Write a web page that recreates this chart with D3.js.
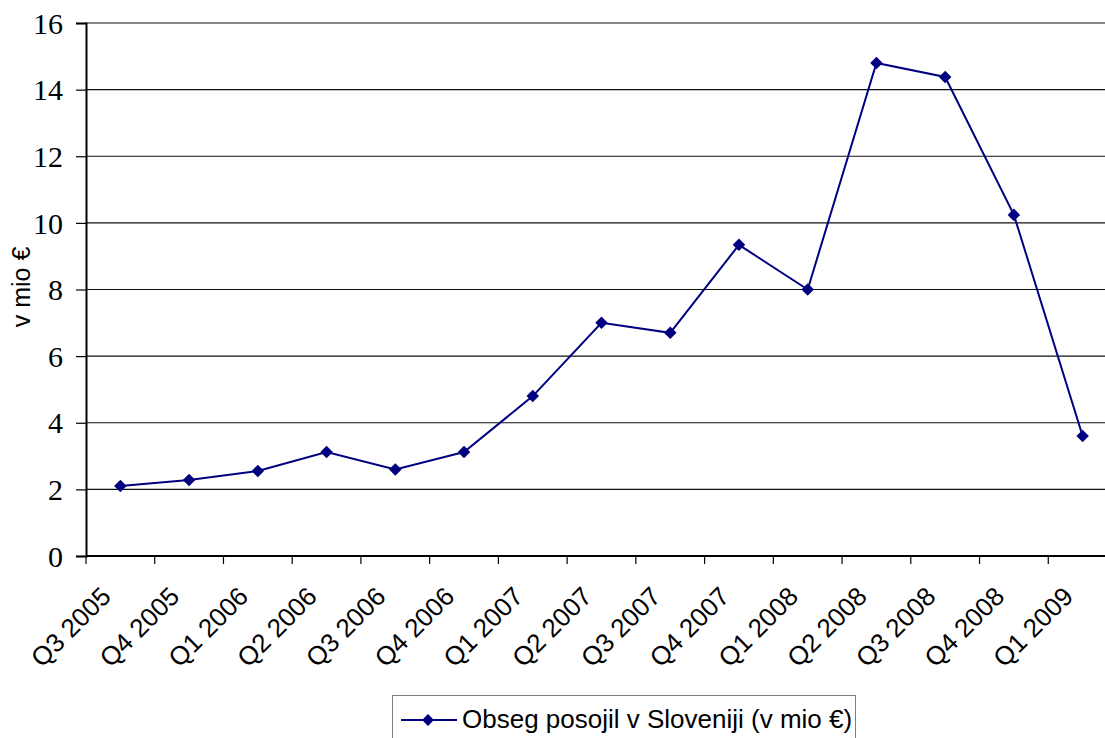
<!DOCTYPE html>
<html>
<head>
<meta charset="utf-8">
<script src="https://cdn.jsdelivr.net/npm/d3@7"></script>
<style>
  body { margin: 0; background: #fff; }
  svg { display: block; }
</style>
</head>
<body>
<svg id="chart" width="1105" height="738"></svg>
<script>
const quarters = ["Q3 2005", "Q4 2005", "Q1 2006", "Q2 2006", "Q3 2006", "Q4 2006", "Q1 2007",
  "Q2 2007", "Q3 2007", "Q4 2007", "Q1 2008", "Q2 2008", "Q3 2008", "Q4 2008", "Q1 2009"];
const loans = [2.1, 2.28, 2.55, 3.12, 2.6, 3.12, 4.8, 7.0, 6.7, 9.34, 8.0, 14.8, 14.38, 10.24, 3.6];
const yTicks = [0, 2, 4, 6, 8, 10, 12, 14, 16];
const seriesName = "Obseg posojil v Sloveniji (v mio €)";
const yTitle = "v mio €";

const svg = d3.select("#chart");
const plotLeft = 86, plotRight = 1117, plotTop = 23, plotBottom = 556;
const navy = "#000080";
const sans = "Liberation Sans, Arial, sans-serif";

const x = d3.scaleBand().domain(quarters).range([plotLeft, plotRight]);
const y = d3.scaleLinear().domain([0, 16]).range([plotBottom, plotTop]);

// gridlines
svg.append("g")
  .selectAll("line")
  .data(yTicks.filter(d => d > 0))
  .enter()
  .append("line")
  .attr("x1", plotLeft).attr("x2", plotRight)
  .attr("y1", d => y(d)).attr("y2", d => y(d))
  .attr("stroke", "#111")
  .attr("stroke-width", 1.2);

// y axis
const yAxis = svg.append("g")
  .attr("transform", `translate(${plotLeft},0)`)
  .call(d3.axisLeft(y).tickValues(yTicks).tickSize(10).tickPadding(13));
yAxis.select(".domain").attr("stroke", "#000").attr("stroke-width", 2);
yAxis.selectAll(".tick line").attr("stroke", "#000").attr("stroke-width", 1.2);
yAxis.selectAll("text")
  .attr("font-family", "Liberation Serif, Times New Roman, serif")
  .attr("font-size", 30)
  .attr("dy", "0.34em")
  .attr("fill", "#000");

// x axis (ticks at band edges)
const xAxis = svg.append("g")
  .attr("transform", `translate(0,${plotBottom})`);
xAxis.append("line")
  .attr("x1", plotLeft).attr("x2", plotRight)
  .attr("stroke", "#000").attr("stroke-width", 2);
xAxis.selectAll(".xtick")
  .data(quarters)
  .enter()
  .append("line")
  .attr("class", "xtick")
  .attr("x1", d => x(d)).attr("x2", d => x(d))
  .attr("y1", 0).attr("y2", 8)
  .attr("stroke", "#000").attr("stroke-width", 1.2);
xAxis.selectAll(".xlabel")
  .data(quarters)
  .enter()
  .append("text")
  .attr("class", "xlabel")
  .attr("transform", d => `translate(${x(d) + x.bandwidth() / 2 - 8},${42}) rotate(-45)`)
  .attr("text-anchor", "end")
  .attr("font-family", sans)
  .attr("font-size", 26)
  .attr("fill", "#000")
  .text(d => d);

// y title
svg.append("text")
  .attr("transform", `translate(${30},${287}) rotate(-90)`)
  .attr("text-anchor", "middle")
  .attr("font-family", sans)
  .attr("font-size", 25)
  .attr("fill", "#000")
  .text(yTitle);

// line
const cx = (d, i) => x(quarters[i]) + x.bandwidth() / 2;
svg.append("path")
  .datum(loans)
  .attr("d", d3.line().x(cx).y(d => y(d)))
  .attr("fill", "none")
  .attr("stroke", navy)
  .attr("stroke-width", 2);

const diamond = d3.symbol().type(d3.symbolDiamond2).size(100);
svg.append("g")
  .selectAll("path")
  .data(loans)
  .enter()
  .append("path")
  .attr("d", diamond)
  .attr("transform", (d, i) => `translate(${cx(d, i)},${y(d)})`)
  .attr("fill", navy);

// legend
const legend = svg.append("g").attr("transform", "translate(392,695)");
legend.append("rect")
  .attr("x", 0.5).attr("y", 0.5)
  .attr("width", 463).attr("height", 60)
  .attr("fill", "#fff")
  .attr("stroke", "#808080")
  .attr("stroke-width", 1);
legend.append("line")
  .attr("x1", 9).attr("x2", 65)
  .attr("y1", 25).attr("y2", 25)
  .attr("stroke", navy).attr("stroke-width", 2);
legend.append("path")
  .attr("d", d3.symbol().type(d3.symbolDiamond2).size(90))
  .attr("transform", "translate(36,25)")
  .attr("fill", navy);
legend.append("text")
  .attr("x", 70).attr("y", 33)
  .attr("font-family", sans)
  .attr("font-size", 26)
  .attr("fill", "#000")
  .text(seriesName);
</script>
</body>
</html>
